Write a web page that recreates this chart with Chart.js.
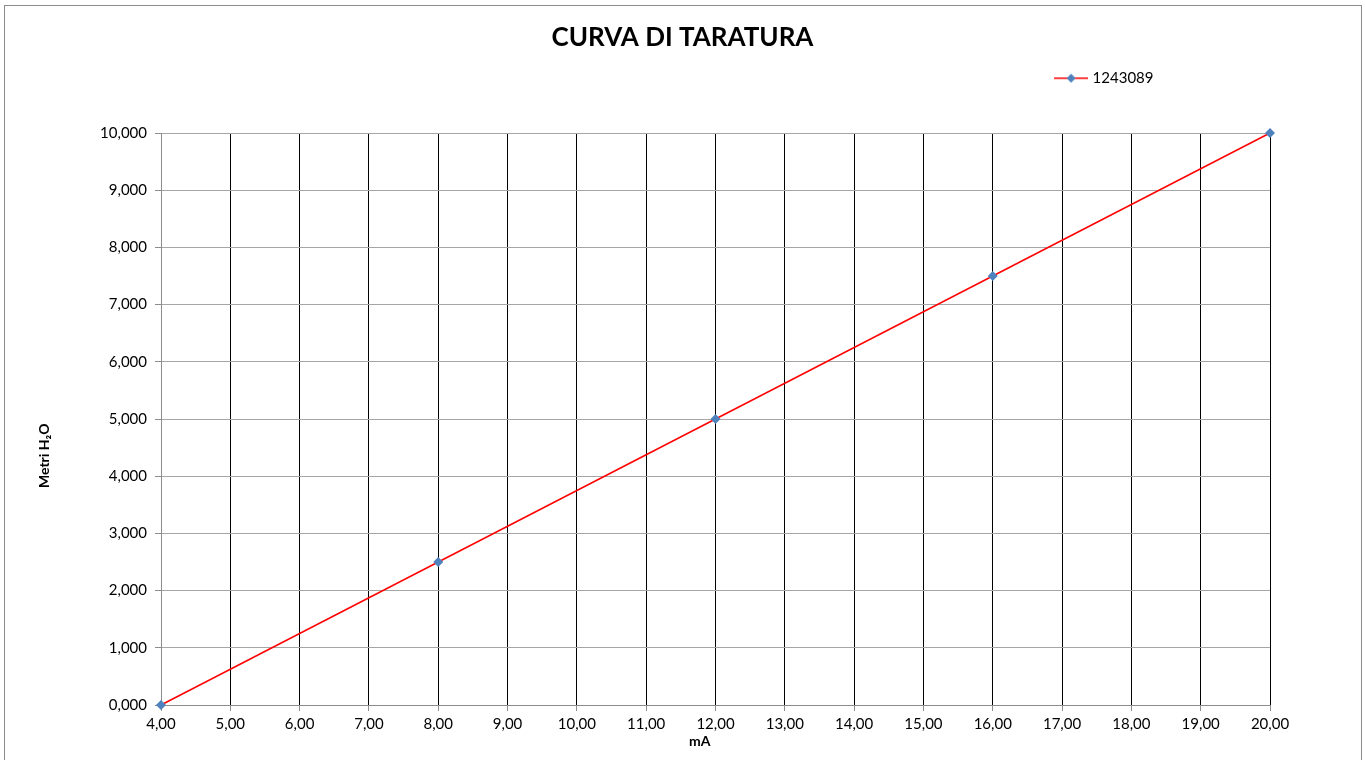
<!DOCTYPE html>
<html>
<head>
<meta charset="utf-8">
<script src="https://cdn.jsdelivr.net/npm/chart.js@4.4.1/dist/chart.umd.min.js"></script>
<style>
  html, body { margin: 0; padding: 0; background: #fff; }
  #wrap { position: relative; width: 1365px; height: 760px; }
</style>
</head>
<body>
<div id="wrap"><canvas id="chart"></canvas></div>
<script>
// valori
const mA = [4, 8, 12, 16, 20];
const metri = [0, 2.5, 5, 7.5, 10];
const seriesName = "1243089";
const chartTitle = "CURVA DI TARATURA";
const xTitle = "mA";
const yTitle = "Metri H₂O";

const FONT = "Lato, 'Open Sans', sans-serif";

// legend marker: red line with blue diamond
const marker = document.createElement("canvas");
marker.width = 34;
marker.height = 12;
(function () {
  const c = marker.getContext("2d");
  c.strokeStyle = "#ff0000";
  c.lineWidth = 1.5;
  c.beginPath();
  c.moveTo(0, 6);
  c.lineTo(34, 6);
  c.stroke();
  c.fillStyle = "#4f81bd";
  c.beginPath();
  c.moveTo(17, 1.5);
  c.lineTo(21.5, 6);
  c.lineTo(17, 10.5);
  c.lineTo(12.5, 6);
  c.closePath();
  c.fill();
})();

const frame = {
  id: "frame",
  beforeDraw(chart) {
    const ctx = chart.ctx;
    ctx.save();
    ctx.fillStyle = "#fff";
    ctx.fillRect(0, 0, chart.width, chart.height);
    ctx.strokeStyle = "#8c8c8c";
    ctx.lineWidth = 1;
    ctx.strokeRect(4.5, 5.5, 1357, 800);
    ctx.restore();
  },
  afterLayout(chart) {
    // legend sits left of the plot's right edge, title centred on the page
    chart.legend.left -= 99;
    chart.legend.right -= 99;
    chart.titleBlock.left += 47.5;
    chart.titleBlock.right += 47.5;
  },
};

const fmt = (v, d) => Number(v).toFixed(d).replace(".", ",");

new Chart(document.getElementById("chart"), {
  type: "scatter",
  data: {
    datasets: [
      {
        label: seriesName,
        data: mA.map((x, i) => ({ x: x, y: metri[i] })),
        showLine: true,
        borderColor: "#ff0000",
        borderWidth: 1.5,
        backgroundColor: "#4f81bd",
        pointBackgroundColor: "#4f81bd",
        pointBorderColor: "#4f81bd",
        pointStyle: "rectRot",
        pointRadius: 5,
        pointBorderWidth: 0,
        clip: false,
      },
    ],
  },
  options: {
    responsive: true,
    maintainAspectRatio: false,
    animation: false,
    layout: { padding: { top: 5, right: 95, left: 0, bottom: 0 } },
    plugins: {
      title: {
        display: true,
        text: chartTitle,
        color: "#000",
        font: { family: FONT, size: 26, weight: "bold", lineHeight: 1.2 },
        padding: { top: 17, bottom: 0 },
      },
      subtitle: {
        // empty spacer between legend and plot
        display: true,
        text: "",
        weight: 500,
        font: { size: 10, lineHeight: 1 },
        padding: { top: 27.3, bottom: 0 },
      },
      legend: {
        position: "top",
        align: "end",
        labels: {
          usePointStyle: true,
          pointStyle: marker,
          pointStyleWidth: 28,
          padding: 17.5,
          color: "#000",
          font: { family: FONT, size: 15 },
        },
      },
      tooltip: { enabled: false },
    },
    scales: {
      x: {
        type: "linear",
        min: 4,
        max: 20,
        afterFit: (s) => { s.height = 55; },
        grid: {
          color: (c) => (c.index === 0 ? "#8c8c8c" : "#000"),
          lineWidth: 1,
          tickLength: 6,
          tickColor: "#8c8c8c",
        },
        border: { color: "#8c8c8c" },
        ticks: {
          stepSize: 1,
          padding: 4,
          color: "#000",
          font: { family: FONT, size: 15 },
          maxRotation: 0,
          callback: (v) => fmt(v, 2),
        },
        title: {
          display: true,
          text: xTitle + "\u2003\u2003\u2003",
          color: "#000",
          font: { family: FONT, size: 14, weight: "bold", lineHeight: 1.2 },
          padding: { top: 10, bottom: 10 },
        },
      },
      y: {
        type: "linear",
        min: 0,
        max: 10,
        afterFit: (s) => { s.width = 161; },
        grid: {
          color: "#a6a6a6",
          lineWidth: 1,
          tickLength: 6,
          tickColor: "#8c8c8c",
        },
        border: { color: "#8c8c8c" },
        ticks: {
          stepSize: 1,
          padding: 8,
          color: "#000",
          font: { family: FONT, size: 15 },
          callback: (v) => fmt(v, 3),
        },
        title: {
          display: true,
          text: yTitle + "\u2003\u2003\u2003\u2003\u2003\u2003\u2003",
          color: "#000",
          font: { family: FONT, size: 14, weight: "bold", lineHeight: 1.2 },
          padding: { top: 36, bottom: 0 },
        },
      },
    },
  },
  plugins: [frame],
});
</script>
</body>
</html>
